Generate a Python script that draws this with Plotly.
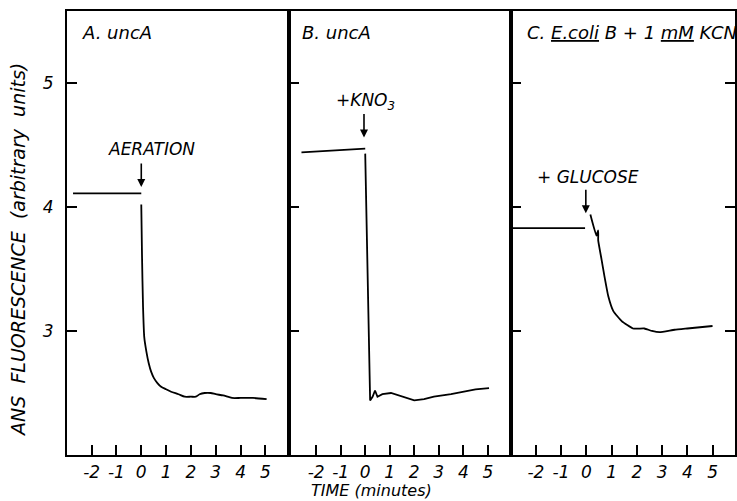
import plotly.graph_objects as go

# ---------------- data ----------------
time_ticks = [-2, -1, 0, 1, 2, 3, 4, 5]
time_labels = ["-2", "-1", "0", "1", "2", "3", "4", "5"]
fluor_ticks = [3, 4, 5]
fluor_labels = ["3", "4", "5"]

# Panel A: uncA, aeration at t=0
a_time = [-2.75, 0.0, None, 0.0, 0.03, 0.07, 0.12, 0.2, 0.3, 0.4, 0.51, 0.65, 0.8, 1.0, 1.2,
          1.5, 1.75, 2.0, 2.2, 2.35, 2.55, 2.8, 3.0, 3.3, 3.65, 4.0, 4.5, 5.05]
a_fluor = [4.11, 4.11, None, 4.02, 3.6, 3.2, 2.95, 2.84, 2.74, 2.67, 2.62, 2.58, 2.55, 2.53, 2.51,
           2.49, 2.47, 2.47, 2.47, 2.49, 2.50, 2.50, 2.49, 2.48, 2.46, 2.46, 2.46, 2.45]

# Panel B: uncA, + KNO3 at t=0
b_time = [-2.6, 0.0, None, 0.0, 0.1, 0.2, 0.3, 0.4, 0.5, 0.7, 1.05, 1.5, 2.0, 2.4, 2.8, 3.5, 4.0, 4.5, 5.05]
b_fluor = [4.44, 4.47, None, 4.43, 3.4, 2.44, 2.47, 2.52, 2.47, 2.49, 2.50, 2.47, 2.44, 2.45, 2.47, 2.49, 2.51, 2.53, 2.54]

# Panel C: E. coli B + 1 mM KCN, + glucose at t=0
c_time = [-2.95, -0.05, None, 0.16, 0.4, 0.47, 0.47, 0.6, 0.71, 0.87, 1.07, 1.4, 1.85, 2.3, 2.6, 2.9, 3.5, 4.0, 5.0]
c_fluor = [3.83, 3.83, None, 3.94, 3.77, 3.81, 3.73, 3.58, 3.45, 3.28, 3.16, 3.08, 3.02, 3.02, 3.00, 2.99, 3.01, 3.02, 3.04]

# ---------------- figure ----------------
W, H = 737, 501
FONT = "DejaVu Sans"


def ifont(size):
    return dict(family=FONT, size=size, color="black", style="italic")


fig = go.Figure()
fig.add_trace(go.Scatter(x=a_time, y=a_fluor, mode="lines",
                         line=dict(color="black", width=1.8, shape="spline", smoothing=0.6),
                         xaxis="x", yaxis="y", connectgaps=False, showlegend=False))
fig.add_trace(go.Scatter(x=b_time, y=b_fluor, mode="lines",
                         line=dict(color="black", width=1.8),
                         xaxis="x2", yaxis="y2", connectgaps=False, showlegend=False))
fig.add_trace(go.Scatter(x=c_time, y=c_fluor, mode="lines",
                         line=dict(color="black", width=1.8, shape="spline", smoothing=0.4),
                         xaxis="x3", yaxis="y3", connectgaps=False, showlegend=False))

xA = [67 / W, 290 / W]
xB = [290 / W, 512 / W]
xC = [512 / W, 1.0]
ydom = [1 - 455 / H, 1 - 11 / H]
yrange = [2.0, 5.58]


def xaxis(dom, rng, anchor):
    return dict(domain=dom, range=rng, anchor=anchor, showline=True, mirror=True,
                linecolor="black", linewidth=1.8, ticks="inside", ticklen=10, tickwidth=2,
                tickcolor="black", tickvals=time_ticks, ticktext=time_labels,
                tickfont=ifont(17), ticklabelstandoff=1,
                showgrid=False, zeroline=False, fixedrange=True)


def yaxis(anchor, labels, mirror):
    return dict(domain=ydom, range=yrange, anchor=anchor, showline=True, mirror=mirror,
                linecolor="black", linewidth=1.8, ticks="inside", ticklen=10, tickwidth=2,
                tickcolor="black", tickvals=fluor_ticks, ticktext=fluor_labels,
                showticklabels=labels, tickfont=ifont(17), ticklabelstandoff=8,
                showgrid=False, zeroline=False, fixedrange=True)


fig.update_layout(
    width=W, height=H,
    margin=dict(l=0, r=0, t=0, b=0),
    paper_bgcolor="white", plot_bgcolor="white",
    xaxis=xaxis(xA, [-3.0, 5.96], "y"),
    xaxis2=xaxis(xB, [-3.1, 5.93], "y2"),
    xaxis3=xaxis(xC, [-3.0, 5.89], "y3"),
    yaxis=yaxis("x", True, True),
    yaxis2=yaxis("x2", False, True),
    yaxis3=yaxis("x3", False, "ticks"),
    showlegend=False,
)

ann = []
# panel titles
ann.append(dict(xref="paper", yref="paper", x=80 / W, y=1 - 32 / H, xanchor="left", yanchor="middle",
                text="A. uncA", showarrow=False, font=ifont(18)))
ann.append(dict(xref="paper", yref="paper", x=301 / W, y=1 - 32 / H, xanchor="left", yanchor="middle",
                text="B. uncA", showarrow=False, font=ifont(18)))
ann.append(dict(xref="paper", yref="paper", x=526 / W, y=1 - 32 / H, xanchor="left", yanchor="middle",
                text="C. <span style='text-decoration:underline'>E.coli</span> B + 1 "
                     "<span style='text-decoration:underline'>mM</span> KCN",
                showarrow=False, font=ifont(18)))
# axis titles
ann.append(dict(xref="paper", yref="paper", x=18 / W, y=1 - 250 / H, xanchor="center", yanchor="middle",
                text="ANS  FLUORESCENCE  (arbitrary  units)", textangle=-90, showarrow=False,
                font=ifont(19)))
ann.append(dict(xref="paper", yref="paper", x=373 / W, y=0, xanchor="center", yanchor="bottom",
                text="TIME (minutes)", showarrow=False, font=ifont(16), borderpad=0))
# event labels
ann.append(dict(xref="paper", yref="paper", x=152 / W, y=1 - 149 / H, xanchor="center", yanchor="middle",
                text="AERATION", showarrow=False, font=ifont(17)))
ann.append(dict(xref="paper", yref="paper", x=366 / W, y=1 - 101 / H, xanchor="center", yanchor="middle",
                text="+KNO<sub>3</sub>", showarrow=False, font=ifont(17)))
ann.append(dict(xref="paper", yref="paper", x=590 / W, y=1 - 177 / H, xanchor="center", yanchor="middle",
                text="+ GLUCOSE", showarrow=False, font=ifont(17)))
# arrows (x=0 = time of addition)
arrow = dict(showarrow=True, arrowhead=2, arrowsize=1, arrowwidth=1.6, arrowcolor="black",
             ax=0, ay=-25, text="")
ann.append(dict(xref="x", yref="y", x=0, y=4.16, **arrow))
ann.append(dict(xref="x2", yref="y2", x=-0.05, y=4.56, **arrow))
ann.append(dict(xref="x3", yref="y3", x=-0.02, y=3.95, **arrow))

fig.update_layout(annotations=ann)
fig.write_html("out.html")
